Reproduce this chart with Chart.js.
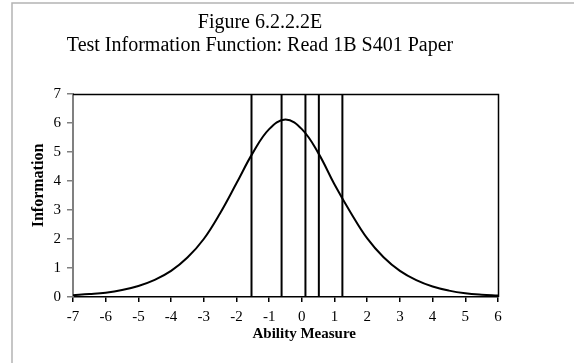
<!DOCTYPE html>
<html><head><meta charset="utf-8">
<script src="https://cdn.jsdelivr.net/npm/chart.js@4/dist/chart.umd.min.js"></script>
<style>html,body{margin:0;padding:0;background:#fff}#wrap{width:574px;height:363px;position:relative}</style>
</head><body><div id="wrap"><canvas id="c" width="574" height="363"></canvas></div>
<script>
const titleLines = ["Figure 6.2.2.2E", "Test Information Function: Read 1B S401 Paper"];
const xTitle = "Ability Measure";
const yTitle = "Information";
const abilityPoints = [-7,-6.5,-6,-5.5,-5,-4.5,-4,-3.5,-3,-2.5,-2,-1.5,-1,-0.5,0,0.5,1,1.5,2,2.5,3,3.5,4,4.5,5,5.5,6];
const information   = [0.06,0.10,0.15,0.24,0.38,0.59,0.90,1.36,2.00,2.89,3.92,4.97,5.79,6.12,5.79,4.97,3.88,2.90,2.02,1.37,0.90,0.58,0.36,0.22,0.13,0.08,0.05];
const cutScores = [-1.54,-0.62,0.11,0.52,1.24];
const xMin = -7, xMax = 6, yMin = 0, yMax = 7;

const curve = abilityPoints.map((x,i)=>({x:x,y:information[i]}));
const datasets = [{
  label: 'TIF', data: curve, showLine: true, borderColor: '#000', borderWidth: 2,
  pointRadius: 0, tension: 0.4, fill: false
}];
cutScores.forEach(c => datasets.push({
  label: 'cut', data: [{x:c,y:yMin},{x:c,y:yMax}], showLine: true,
  borderColor: '#000', borderWidth: 2, pointRadius: 0
}));

const frame = {
  id: 'frame',
  beforeDraw(chart){
    const ctx = chart.ctx;
    ctx.save();
    ctx.fillStyle = '#fff';
    ctx.fillRect(0,0,chart.width,chart.height);
    ctx.strokeStyle = '#b4b4b4';
    ctx.lineWidth = 1.5;
    ctx.strokeRect(12, 3, 700, 500);
    ctx.restore();
  },
  beforeDatasetsDraw(chart){
    const a = chart.chartArea, ctx = chart.ctx;
    ctx.save();
    ctx.strokeStyle = '#000';
    ctx.lineWidth = 1.5;
    ctx.beginPath();
    ctx.moveTo(a.left, a.top + 0.5);
    ctx.lineTo(a.right + 0.5, a.top + 0.5);
    ctx.lineTo(a.right + 0.5, a.bottom);
    ctx.stroke();
    ctx.restore();
  }
};

const serif = "'Liberation Serif', 'Times New Roman', serif";
new Chart(document.getElementById('c'), {
  type: 'scatter',
  data: { datasets },
  plugins: [frame],
  options: {
    responsive: false, animation: false, devicePixelRatio: 1,
    layout: { padding: { left: 22, right: 76, top: 0, bottom: 0 } },
    plugins: {
      legend: { display: false }, tooltip: { enabled: false },
      title: { display: true, text: titleLines, color: '#000',
        font: { family: serif, size: 20, weight: 'normal', lineHeight: 1.15 },
        padding: { top: 11, bottom: 37 } }
    },
    scales: {
      x: {
        type: 'linear', min: xMin, max: xMax,
        afterFit(s){ s.height = 66; },
        border: { display: true, color: '#000', width: 1.5 },
        grid: { display: true, drawOnChartArea: false, drawTicks: true, tickLength: 5, tickColor: '#000', lineWidth: 1.5 },
        ticks: { stepSize: 1, color: '#000', padding: 6, font: { family: serif, size: 15 } },
        title: { display: true, text: '\u2003\u2003\u2002' + xTitle, color: '#000', padding: 20,
          font: { family: serif, size: 15, weight: 'bold' } }
      },
      y: {
        type: 'linear', min: yMin, max: yMax,
        afterFit(s){ s.width = 51; },
        border: { display: true, color: '#808080', width: 2 },
        grid: { display: true, drawOnChartArea: false, drawTicks: true, tickLength: 6, tickColor: '#808080', lineWidth: 1.5 },
        ticks: { stepSize: 1, color: '#000', padding: 6, font: { family: serif, size: 15 } },
        title: { display: true, text: '\u2003 ' + yTitle, color: '#000', padding: 7,
          font: { family: serif, size: 16, weight: 'bold' } }
      }
    }
  }
});
</script></body></html>
